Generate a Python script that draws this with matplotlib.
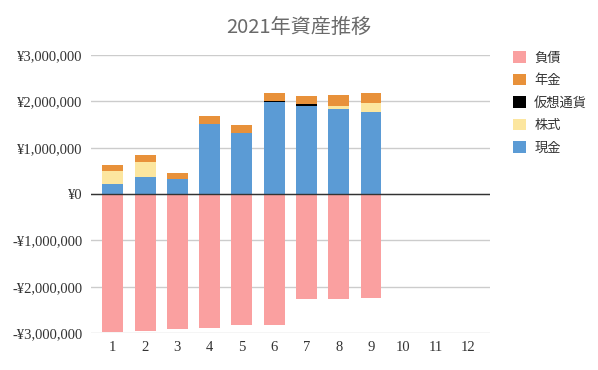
import matplotlib
matplotlib.use("Agg")
import matplotlib.pyplot as plt
import numpy as np
from matplotlib.ticker import FuncFormatter

months = [1, 2, 3, 4, 5, 6, 7, 8, 9, 10, 11, 12]
cash = [224000, 375000, 318000, 1506000, 1317000, 1985000, 1905000, 1833000, 1768000, 0, 0, 0]
stocks = [282000, 327000, 0, 0, 0, 0, 0, 65000, 192000, 0, 0, 0]
crypto = [0, 0, 0, 0, 0, 20000, 30000, 0, 0, 0, 0, 0]
pension = [131000, 131000, 145000, 174000, 168000, 185000, 180000, 239000, 230000, 0, 0, 0]
liability = [-2986000, -2964000, -2920000, -2900000, -2835000, -2835000, -2266000, -2266000, -2245000, 0, 0, 0]

labels = ["負債", "年金", "仮想通貨", "株式", "現金"]
colors = {"負債": "#FAA0A0", "年金": "#E8913A", "仮想通貨": "#000000", "株式": "#FCE69F", "現金": "#5B9BD5"}

plt.rcParams['font.family'] = ['Noto Sans CJK JP', 'DejaVu Sans']

fig = plt.figure(figsize=(5.98, 3.70), dpi=100)
ax = fig.add_axes([0.152, 0.10, 0.667, 0.751])

x = np.array(months)
w = 0.65
cash_a = np.array(cash); st_a = np.array(stocks); cr_a = np.array(crypto); pe_a = np.array(pension)
h_liab = ax.bar(x, liability, w, color=colors["負債"], zorder=2)
h_cash = ax.bar(x, cash_a, w, color=colors["現金"], zorder=2)
h_st = ax.bar(x, st_a, w, bottom=cash_a, color=colors["株式"], zorder=2)
h_cr = ax.bar(x, cr_a, w, bottom=cash_a + st_a, color=colors["仮想通貨"], zorder=2)
h_pe = ax.bar(x, pe_a, w, bottom=cash_a + st_a + cr_a, color=colors["年金"], zorder=2)

ax.set_xlim(0.32, 12.68)
ax.set_ylim(-3000000, 3000000)
ax.set_yticks([-3000000, -2000000, -1000000, 0, 1000000, 2000000, 3000000])

def fmt(v, pos):
    v = int(round(v))
    if v < 0:
        return "-¥{:,}".format(-v)
    return "¥{:,}".format(v)

ax.yaxis.set_major_formatter(FuncFormatter(fmt))
ax.set_xticks(x)
ax.set_xticklabels([str(m) for m in months])
ax.grid(axis='y', color='#CCCCCC', linewidth=1, zorder=0)
ax.axhline(0, color='#333333', linewidth=1, zorder=3)
for s in ax.spines.values():
    s.set_visible(False)
ax.tick_params(length=0, pad=6)
for t in ax.get_yticklabels() + ax.get_xticklabels():
    t.set_fontfamily(['Liberation Serif', 'DejaVu Serif'])
    t.set_fontsize(10.5)
    t.set_color('#333333')

fig.text(0.5, 0.927, "2021年資産推移", ha='center', va='center', fontsize=14.5, color='#6a6a6a')

handles = [h_liab, h_pe, h_cr, h_st, h_cash]
leg = fig.legend(handles, labels, loc='upper left', bbox_to_anchor=(0.838, 0.893), frameon=False,
                 fontsize=9.5, handlelength=0.95, handleheight=0.95, handletextpad=0.65, labelspacing=0.7)
for t in leg.get_texts():
    t.set_color('#333333')

fig.savefig("out.png", dpi=100)
